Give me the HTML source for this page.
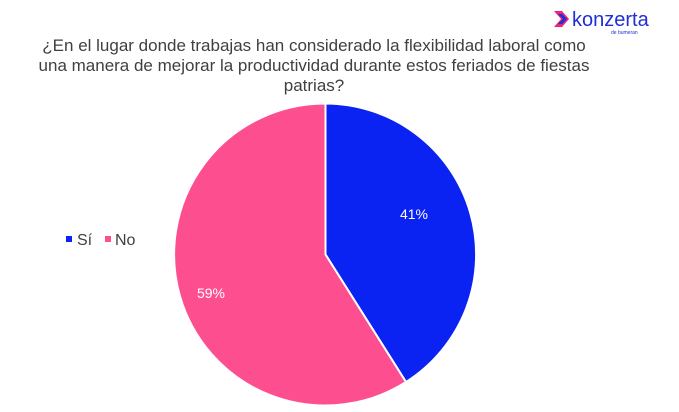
<!DOCTYPE html>
<html><head><style>
body{margin:0;width:679px;height:412px;background:#fff;overflow:hidden;font-family:"Liberation Sans",sans-serif;}
.t{position:absolute;left:33px;width:562px;top:36px;text-align:center;font-size:17px;line-height:20px;color:#404040;}
</style></head><body>
<div class="t">¿En el lugar donde trabajas han considerado la flexibilidad laboral como una manera de mejorar la productividad durante estos feriados de fiestas patrias?</div>
<svg width="679" height="412" style="position:absolute;left:0;top:0">
<path d="M325.5,254.5 L325.5,103.5 A151,151 0 0,1 406,382 Z" fill="#0a23f2" stroke="#fff" stroke-width="2"/>
<path d="M325.5,254.5 L406,382 A151,151 0 1,1 325.5,103.5 Z" fill="#fd4f8f" stroke="#fff" stroke-width="2"/>
<text x="414" y="219" fill="#fff" font-size="14" text-anchor="middle" font-family="Liberation Sans">41%</text>
<text x="211" y="298" fill="#fff" font-size="14" text-anchor="middle" font-family="Liberation Sans">59%</text>
<rect x="66" y="236" width="6" height="6" fill="#0a23f2"/>
<text x="77" y="245" fill="#404040" font-size="16" font-family="Liberation Sans">Sí</text>
<rect x="105" y="236" width="6" height="6" fill="#fd4f8f"/>
<text x="115" y="245" fill="#404040" font-size="16" font-family="Liberation Sans">No</text>
<path d="M554,11 L562,11 L569,19 L562,27 L554,27 L561,19 Z" fill="#e8247a"/>
<path d="M558,14 L562,14 L567,19 L562,24 L558,24 L563,19 Z" fill="#1e2fd6"/>
<text x="572" y="26" fill="#1e2fd6" font-size="20" font-family="Liberation Sans">konzerta</text>
<text x="611" y="34" fill="#1e2fd6" font-size="5" font-family="Liberation Sans">de bumeran</text>
</svg>
</body></html>
